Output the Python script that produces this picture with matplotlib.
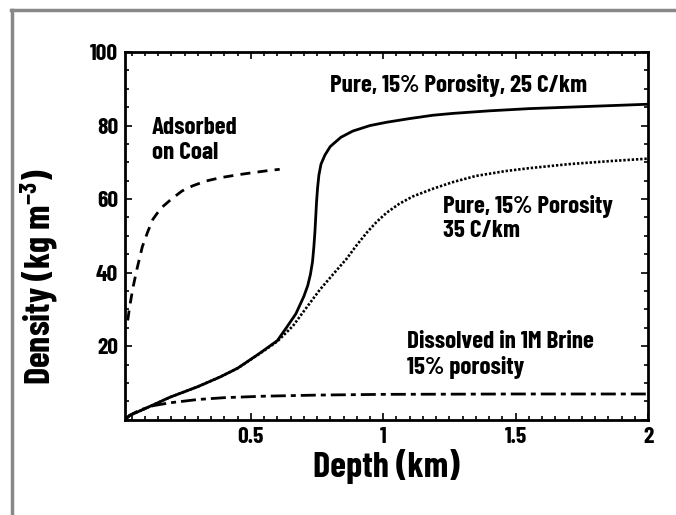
import matplotlib
matplotlib.use('Agg')
import matplotlib.pyplot as plt
from matplotlib.lines import Line2D
from matplotlib.ticker import MultipleLocator, FuncFormatter

FONT = 'Barlow Condensed'
plt.rcParams['font.family'] = [FONT, 'DejaVu Sans']
plt.rcParams['font.weight'] = 'bold'
plt.rcParams['axes.labelweight'] = 'bold'
plt.rcParams['mathtext.fontset'] = 'custom'
plt.rcParams['mathtext.rm'] = FONT + ':bold'
plt.rcParams['mathtext.it'] = FONT + ':bold'
plt.rcParams['mathtext.bf'] = FONT + ':bold'

# Pure CO2, 15% porosity, 25 C/km gradient
depth_25 = [0.025, 0.043, 0.10, 0.194, 0.30, 0.383, 0.45, 0.534, 0.60, 0.636,
            0.67, 0.70, 0.715, 0.725, 0.733, 0.738, 0.742, 0.745, 0.748, 0.752,
            0.757, 0.765, 0.78, 0.80, 0.84, 0.885, 0.95, 1.013, 1.10, 1.187,
            1.262, 1.40, 1.55, 1.70, 1.85, 2.0]
dens_25 = [0, 1.2, 3.0, 6.1, 9.0, 11.6, 14.0, 18.1, 21.5, 25.2,
           28.8, 33.5, 36.5, 39.5, 43.0, 47.0, 51.0, 55.0, 59.0, 63.0,
           66.5, 69.5, 72.0, 74.3, 76.8, 78.5, 80.0, 80.9, 81.9, 82.8,
           83.3, 84.0, 84.6, 85.0, 85.4, 85.8]

# Pure CO2, 15% porosity, 35 C/km gradient
depth_35 = [0.025, 0.043, 0.10, 0.194, 0.30, 0.383, 0.45, 0.534, 0.60, 0.659,
            0.70, 0.76, 0.81, 0.862, 0.90, 0.938, 0.975, 1.013, 1.06, 1.111,
            1.187, 1.262, 1.35, 1.46, 1.55, 1.70, 1.85, 2.0]
dens_35 = [0, 1.2, 3.0, 6.1, 9.0, 11.6, 14.0, 18.0, 21.3, 25.5,
           29.5, 35.3, 39.5, 43.8, 47.5, 50.9, 53.8, 56.3, 58.7, 60.7,
           62.8, 64.6, 66.3, 67.6, 68.4, 69.5, 70.3, 71.0]

# Adsorbed on coal
depth_coal = [0.035, 0.043, 0.055, 0.07, 0.09, 0.11, 0.13, 0.16, 0.20, 0.24,
              0.28, 0.33, 0.383, 0.45, 0.508, 0.56, 0.609]
dens_coal = [27, 31, 36, 41, 47, 51, 54.5, 57.5, 60.0, 62.2,
             63.6, 64.9, 65.8, 66.6, 67.2, 67.7, 68.1]

# Dissolved in 1M brine, 15% porosity
depth_brine = [0.025, 0.043, 0.08, 0.13, 0.194, 0.30, 0.40, 0.55, 0.75, 1.0, 1.5, 2.0]
dens_brine = [0, 1.2, 2.6, 3.8, 4.6, 5.5, 6.0, 6.4, 6.7, 6.9, 7.0, 7.0]

fig = plt.figure(figsize=(6.76, 5.15), dpi=100)
ax = fig.add_axes([0.185, 0.185, 0.7736, 0.714])

ax.plot(depth_25, dens_25, color='black', lw=2.0)
ax.plot(depth_35, dens_35, color='black', lw=1.9, linestyle=(0, (0.9, 0.7)))
ax.plot(depth_coal, dens_coal, color='black', lw=2.0, linestyle=(0, (3.6, 2.6)))
ax.plot(depth_brine, dens_brine, color='black', lw=2.0,
        linestyle=(0, (5.4, 1.8, 1.8, 1.8)))

ax.set_xlim(0.025, 2.0)
ax.set_ylim(0, 100)
ax.xaxis.set_major_locator(MultipleLocator(0.5))
ax.xaxis.set_minor_locator(MultipleLocator(0.05))
ax.yaxis.set_major_locator(MultipleLocator(20))
ax.yaxis.set_minor_locator(MultipleLocator(5))
ax.xaxis.set_major_formatter(FuncFormatter(lambda v, p: f'{v:g}'))
ax.yaxis.set_major_formatter(FuncFormatter(lambda v, p: '' if v == 0 else f'{v:g}'))
ax.tick_params(which='both', direction='in', top=True, right=True, width=1.2)
ax.tick_params(which='major', length=5, labelsize=17, pad=5)
ax.tick_params(which='minor', length=3)
for lbl in ax.get_xticklabels() + ax.get_yticklabels():
    lbl.set_fontweight('bold')
for s in ax.spines.values():
    s.set_linewidth(2.0)

ax.set_xlabel('Depth (km)', fontsize=26, labelpad=2)
ax.set_ylabel(r'Density (kg m$^{-3}$)', fontsize=26)
ax.yaxis.set_label_coords(-0.125, 0.39)

tkw = dict(fontsize=18, fontweight='bold', color='black')
ax.text(0.80, 91, 'Pure, 15% Porosity, 25 C/km', va='center', **tkw)
ax.text(0.126, 76, 'Adsorbed\non Coal', va='center', linespacing=1.15, **tkw)
ax.text(1.225, 54.7, 'Pure, 15% Porosity\n35 C/km', va='center', linespacing=1.15, **tkw)
ax.text(1.089, 17.6, 'Dissolved in 1M Brine\n15% porosity', va='center', linespacing=1.15, **tkw)

# grey frame along the top and left edges
frame_kw = dict(color='#888888', lw=2.5, transform=fig.transFigure)
fig.add_artist(Line2D([0.016, 1.0], [0.981, 0.981], **frame_kw))
fig.add_artist(Line2D([0.018, 0.018], [0.0, 0.981], **frame_kw))

fig.savefig('out.png', dpi=100)
